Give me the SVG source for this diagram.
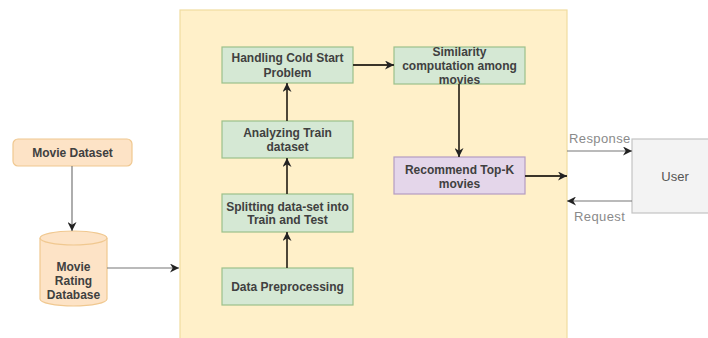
<svg xmlns="http://www.w3.org/2000/svg" width="708" height="338" viewBox="0 0 708 338">
  <style>
    .lbl { font-family: "Liberation Sans", Arial, sans-serif; font-size: 12px; font-weight: bold; fill: #404040; text-anchor: middle; }
    .edge-lbl { font-family: "Liberation Sans", Arial, sans-serif; font-size: 13px; fill: #8a8a8a; letter-spacing: 0.4px; }
    .step { fill: #d5e8d4; stroke: #9cc08a; stroke-width: 1.2; }
    .flow { stroke: #3a3428; stroke-width: 1.8; fill: none; }
    .thin { stroke: #777; stroke-width: 1.2; fill: none; }
  </style>
  <defs>
    <marker id="arrow" viewBox="0 0 10 10" refX="10" refY="5" markerWidth="9" markerHeight="9" markerUnits="userSpaceOnUse" orient="auto">
      <path d="M0,0 L10,5 L0,10 L3,5 z" fill="#222"/>
    </marker>
  </defs>

  <rect width="708" height="338" fill="#ffffff"/>

  <!-- system boundary -->
  <g id="system">
    <rect x="180" y="10" width="387" height="340" fill="#fff0c9" stroke="#f0dca0" stroke-width="1.2"/>
  </g>

  <g id="movie-dataset">
    <rect x="13" y="139" width="119" height="27" rx="5" fill="#fde3c6" stroke="#f0c890" stroke-width="1.2"/>
    <text class="lbl" x="72.5" y="157">Movie Dataset</text>
  </g>

  <g id="rating-db">
    <path d="M40,238 A33.5,7 0 0 1 107,238 L107,299 A33.5,7 0 0 1 40,299 Z" fill="#fde3c6" stroke="#f0c890" stroke-width="1.2"/>
    <path d="M40,238 A33.5,7 0 0 0 107,238" fill="none" stroke="#f0c890" stroke-width="1.2"/>
    <text class="lbl" x="73.5" y="271">Movie</text>
    <text class="lbl" x="73.5" y="285">Rating</text>
    <text class="lbl" x="73.5" y="299">Database</text>
  </g>

  <g id="cold-start">
    <rect class="step" x="222" y="47" width="131" height="36"/>
    <text class="lbl" x="287.5" y="62">Handling Cold Start</text>
    <text class="lbl" x="287.5" y="77">Problem</text>
  </g>

  <g id="analyze">
    <rect class="step" x="222" y="121" width="131" height="37"/>
    <text class="lbl" x="287.5" y="137">Analyzing Train</text>
    <text class="lbl" x="287.5" y="151">dataset</text>
  </g>

  <g id="split">
    <rect class="step" x="222" y="194" width="131" height="38"/>
    <text class="lbl" x="287.5" y="211">Splitting data-set into</text>
    <text class="lbl" x="287.5" y="224">Train and Test</text>
  </g>

  <g id="preprocess">
    <rect class="step" x="222" y="268" width="131" height="37"/>
    <text class="lbl" x="287.5" y="291">Data Preprocessing</text>
  </g>

  <g id="similarity">
    <rect class="step" x="394" y="47" width="131" height="37"/>
    <text class="lbl" x="459.5" y="56">Similarity</text>
    <text class="lbl" x="459.5" y="70">computation among</text>
    <text class="lbl" x="459.5" y="84">movies</text>
  </g>

  <g id="recommend">
    <rect x="394" y="157" width="131" height="37" fill="#e4d6ea" stroke="#b49cc2" stroke-width="1.2"/>
    <text class="lbl" x="459.5" y="174">Recommend Top-K</text>
    <text class="lbl" x="459.5" y="188">movies</text>
  </g>

  <g id="user">
    <rect x="632" y="139" width="80" height="74" fill="#f3f3f3" stroke="#c4c4c4" stroke-width="1.2"/>
    <text class="lbl" x="675" y="181" style="font-weight:normal; font-size:13px; fill:#555">User</text>
  </g>

  <g id="connectors">
    <line class="thin" x1="72" y1="166" x2="72" y2="231" marker-end="url(#arrow)"/>
    <line class="thin" x1="107" y1="268" x2="179" y2="268" marker-end="url(#arrow)"/>
    <line class="flow" x1="287" y1="268" x2="287" y2="232" marker-end="url(#arrow)"/>
    <line class="flow" x1="287" y1="194" x2="287" y2="158" marker-end="url(#arrow)"/>
    <line class="flow" x1="287" y1="121" x2="287" y2="83" marker-end="url(#arrow)"/>
    <line class="flow" x1="353" y1="65" x2="394" y2="65" marker-end="url(#arrow)"/>
    <line class="flow" x1="459" y1="84" x2="459" y2="157" marker-end="url(#arrow)"/>
    <line class="flow" x1="525" y1="176" x2="567" y2="176" marker-end="url(#arrow)"/>
    <line class="thin" x1="567" y1="151" x2="632" y2="151" marker-end="url(#arrow)"/>
    <line class="thin" x1="632" y1="201" x2="567" y2="201" marker-end="url(#arrow)"/>
    <text class="edge-lbl" x="569" y="143">Response</text>
    <text class="edge-lbl" x="574" y="221">Request</text>
  </g>
</svg>
